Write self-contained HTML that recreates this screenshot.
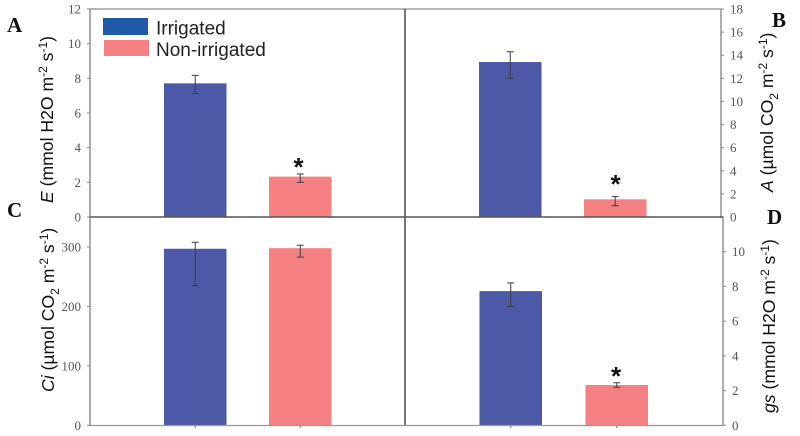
<!DOCTYPE html>
<html lang="en">
<head>
<meta charset="utf-8">
<title>Gas exchange under irrigated and non-irrigated conditions</title>
<style>
  html, body { margin: 0; padding: 0; background: #fff; }
  svg { display: block; filter: blur(0.35px); }
  .tick { font: 13px "Liberation Serif", serif; fill: #555; }
  .axis-title { font: 17.6px "Liberation Sans", sans-serif; fill: #111; }
  .panel { font: bold 21px "Liberation Serif", serif; fill: #111; }
  .legend { font: 19px "Liberation Sans", sans-serif; fill: #222; }
  .star { font: bold 26px "Liberation Sans", sans-serif; fill: #111; }
  .s { font-size: 12px; }
</style>
</head>
<body>
<svg id="chart" xmlns="http://www.w3.org/2000/svg" width="800" height="436" viewBox="0 0 800 436">
  <rect width="800" height="436" fill="#fff"/>
  <g id="marks"></g>

  <rect x="103" y="18" width="45" height="17" fill="#1f5aa8"/>
  <text class="legend" x="156" y="34.5">Irrigated</text>
  <rect x="104" y="40" width="45" height="16" fill="#f58082"/>
  <text class="legend" x="156" y="56">Non-irrigated</text>

  <text class="panel" x="7" y="32">A</text>
  <text class="panel" x="772" y="27">B</text>
  <text class="panel" x="7" y="217">C</text>
  <text class="panel" x="767" y="224">D</text>

  <text class="axis-title" transform="translate(53,203) rotate(-90)"><tspan font-style="italic">E</tspan> (mmol H2O m<tspan class="s" dy="-6">-2</tspan><tspan dy="6"> s</tspan><tspan class="s" dy="-6">-1</tspan><tspan dy="6">)</tspan></text>
  <text class="axis-title" transform="translate(773,192) rotate(-90)"><tspan font-style="italic">A</tspan> (µmol CO<tspan class="s" dy="5">2</tspan><tspan dy="-5"> m</tspan><tspan class="s" dy="-6">-2</tspan><tspan dy="6"> s</tspan><tspan class="s" dy="-6">-1</tspan><tspan dy="6">)</tspan></text>
  <text class="axis-title" transform="translate(54,392) rotate(-90)"><tspan font-style="italic">Ci</tspan> (µmol CO<tspan class="s" dy="5">2</tspan><tspan dy="-5"> m</tspan><tspan class="s" dy="-6">-2</tspan><tspan dy="6"> s</tspan><tspan class="s" dy="-6">-1</tspan><tspan dy="6">)</tspan></text>
  <text class="axis-title" transform="translate(775,413) rotate(-90)"><tspan font-style="italic">gs</tspan> (mmol H2O m<tspan class="s" dy="-6">-2</tspan><tspan dy="6"> s</tspan><tspan class="s" dy="-6">-1</tspan><tspan dy="6">)</tspan></text>

  <text class="star" x="298.5" y="176" text-anchor="middle">*</text>
  <text class="star" x="615.5" y="193" text-anchor="middle">*</text>
  <text class="star" x="616" y="385" text-anchor="middle">*</text>
</svg>
<script>
// Panel A: transpiration E
const eTicks = [0, 2, 4, 6, 8, 10, 12];
const eMeans = [7.71, 2.33];
const eHigh = [8.17, 2.48];
const eLow = [7.13, 2.0];
// Panel B: assimilation A
const aTicks = [0, 2, 4, 6, 8, 10, 12, 14, 16, 18];
const aMeans = [13.41, 1.53];
const aHigh = [14.3, 1.76];
const aLow = [12.0, 0.98];
// Panel C: intercellular CO2 Ci
const ciTicks = [0, 100, 200, 300];
const ciMeans = [297, 298];
const ciHigh = [308, 303];
const ciLow = [235, 283];
// Panel D: stomatal conductance gs
const gsTicks = [0, 2, 4, 6, 8, 10];
const gsMeans = [7.73, 2.32];
const gsHigh = [8.2, 2.45];
const gsLow = [6.85, 2.19];
// Series
const seriesNames = ['irrigated', 'non-irrigated'];
const seriesColors = ['#4b59a6', '#f58082'];

const NS = 'http://www.w3.org/2000/svg';
const root = document.getElementById('marks');

function add(tag, attrs, name, text) {
  const el = document.createElementNS(NS, tag);
  for (const k in attrs) el.setAttribute(k, attrs[k]);
  
  
  if (text !== undefined) el.textContent = text;
  root.appendChild(el);
  return el;
}

function linearScale(d0, d1, r0, r1) {
  return function (v) { return r0 + (v - d0) * (r1 - r0) / (d1 - d0); };
}

function drawPanel(p) {
  const y = linearScale(p.dMin, p.dMax, p.yZero, p.yMax);
  // axis
  add('line', { x1: p.axisX, x2: p.axisX, y1: p.axisTop, y2: p.axisBottom, stroke: '#8a8a8a', 'stroke-width': 1.4 }, p.id + '-y-axis');
  // ticks
  p.ticks.forEach(function (t) {
    const ty = y(t);
    const x2 = p.side === 'left' ? p.axisX - 3 : p.axisX + 3;
    add('line', { x1: p.axisX, x2: x2, y1: ty, y2: ty, stroke: '#8a8a8a', 'stroke-width': 1 }, p.id + '-y-tick-' + t);
    add('text', {
      class: 'tick',
      x: p.side === 'left' ? p.axisX - 9 : p.axisX + p.labelGap,
      y: ty + 4.5,
      'text-anchor': p.side === 'left' ? 'end' : 'start'
    }, p.id + '-y-tick-label-' + t, String(t));
  });
  // bars + error bars
  p.means.forEach(function (m, i) {
    const left = p.barX[i];
    const cx = left + p.barW / 2;
    const top = y(m);
    add('rect', { x: left, y: top, width: p.barW, height: p.yZero - top, fill: seriesColors[i] }, p.id + '-bar-' + seriesNames[i]);
    const yh = y(p.high[i]);
    const yl = y(p.low[i]);
    const col = '#3d3d45';
    add('line', { x1: cx, x2: cx, y1: yh, y2: yl, stroke: col, 'stroke-width': 1 }, p.id + '-error-stem-' + seriesNames[i]);
    add('line', { x1: cx - 3.5, x2: cx + 3.5, y1: yh, y2: yh, stroke: col, 'stroke-width': 1 }, p.id + '-error-cap-high-' + seriesNames[i]);
    add('line', { x1: cx - 3.5, x2: cx + 3.5, y1: yl, y2: yl, stroke: col, 'stroke-width': 1 }, p.id + '-error-cap-low-' + seriesNames[i]);
    if (p.xTicks) {
      add('line', { x1: cx, x2: cx, y1: p.yZero, y2: p.yZero + 2.5, stroke: '#666', 'stroke-width': 1 }, p.id + '-x-tick-' + seriesNames[i]);
    }
  });
}

drawPanel({ id: 'panel-e', side: 'left', axisX: 90, axisTop: 9, axisBottom: 217, labelGap: 0,
  dMin: 0, dMax: 12, yZero: 217, yMax: 9, ticks: eTicks, means: eMeans, high: eHigh, low: eLow,
  barX: [164, 269], barW: 62.5, xTicks: false });
drawPanel({ id: 'panel-a', side: 'right', axisX: 721, axisTop: 9, axisBottom: 217, labelGap: 9,
  dMin: 0, dMax: 18, yZero: 217, yMax: 9, ticks: aTicks, means: aMeans, high: aHigh, low: aLow,
  barX: [479, 584], barW: 62.5, xTicks: false });
drawPanel({ id: 'panel-ci', side: 'left', axisX: 90, axisTop: 217, axisBottom: 425.5, labelGap: 0,
  dMin: 0, dMax: 300, yZero: 425.3, yMax: 247, ticks: ciTicks, means: ciMeans, high: ciHigh, low: ciLow,
  barX: [164, 269], barW: 62.5, xTicks: true });
drawPanel({ id: 'panel-gs', side: 'right', axisX: 723, axisTop: 217, axisBottom: 425.5, labelGap: 9,
  dMin: 0, dMax: 10, yZero: 425.3, yMax: 251.7, ticks: gsTicks, means: gsMeans, high: gsHigh, low: gsLow,
  barX: [479.5, 585.5], barW: 62.5, xTicks: true });

// frame lines
add('line', { x1: 90, x2: 721, y1: 9, y2: 9, stroke: '#8a8a8a', 'stroke-width': 1.2 }, 'top-border');
add('line', { x1: 90, x2: 723, y1: 217, y2: 217, stroke: '#555', 'stroke-width': 1.6 }, 'middle-horizontal-divider');
add('line', { x1: 405, x2: 405, y1: 9, y2: 425.5, stroke: '#555', 'stroke-width': 1.6 }, 'middle-vertical-divider');
add('line', { x1: 88, x2: 723, y1: 425.5, y2: 425.5, stroke: '#999', 'stroke-width': 1.2 }, 'bottom-x-axis');
</script>
</body>
</html>
